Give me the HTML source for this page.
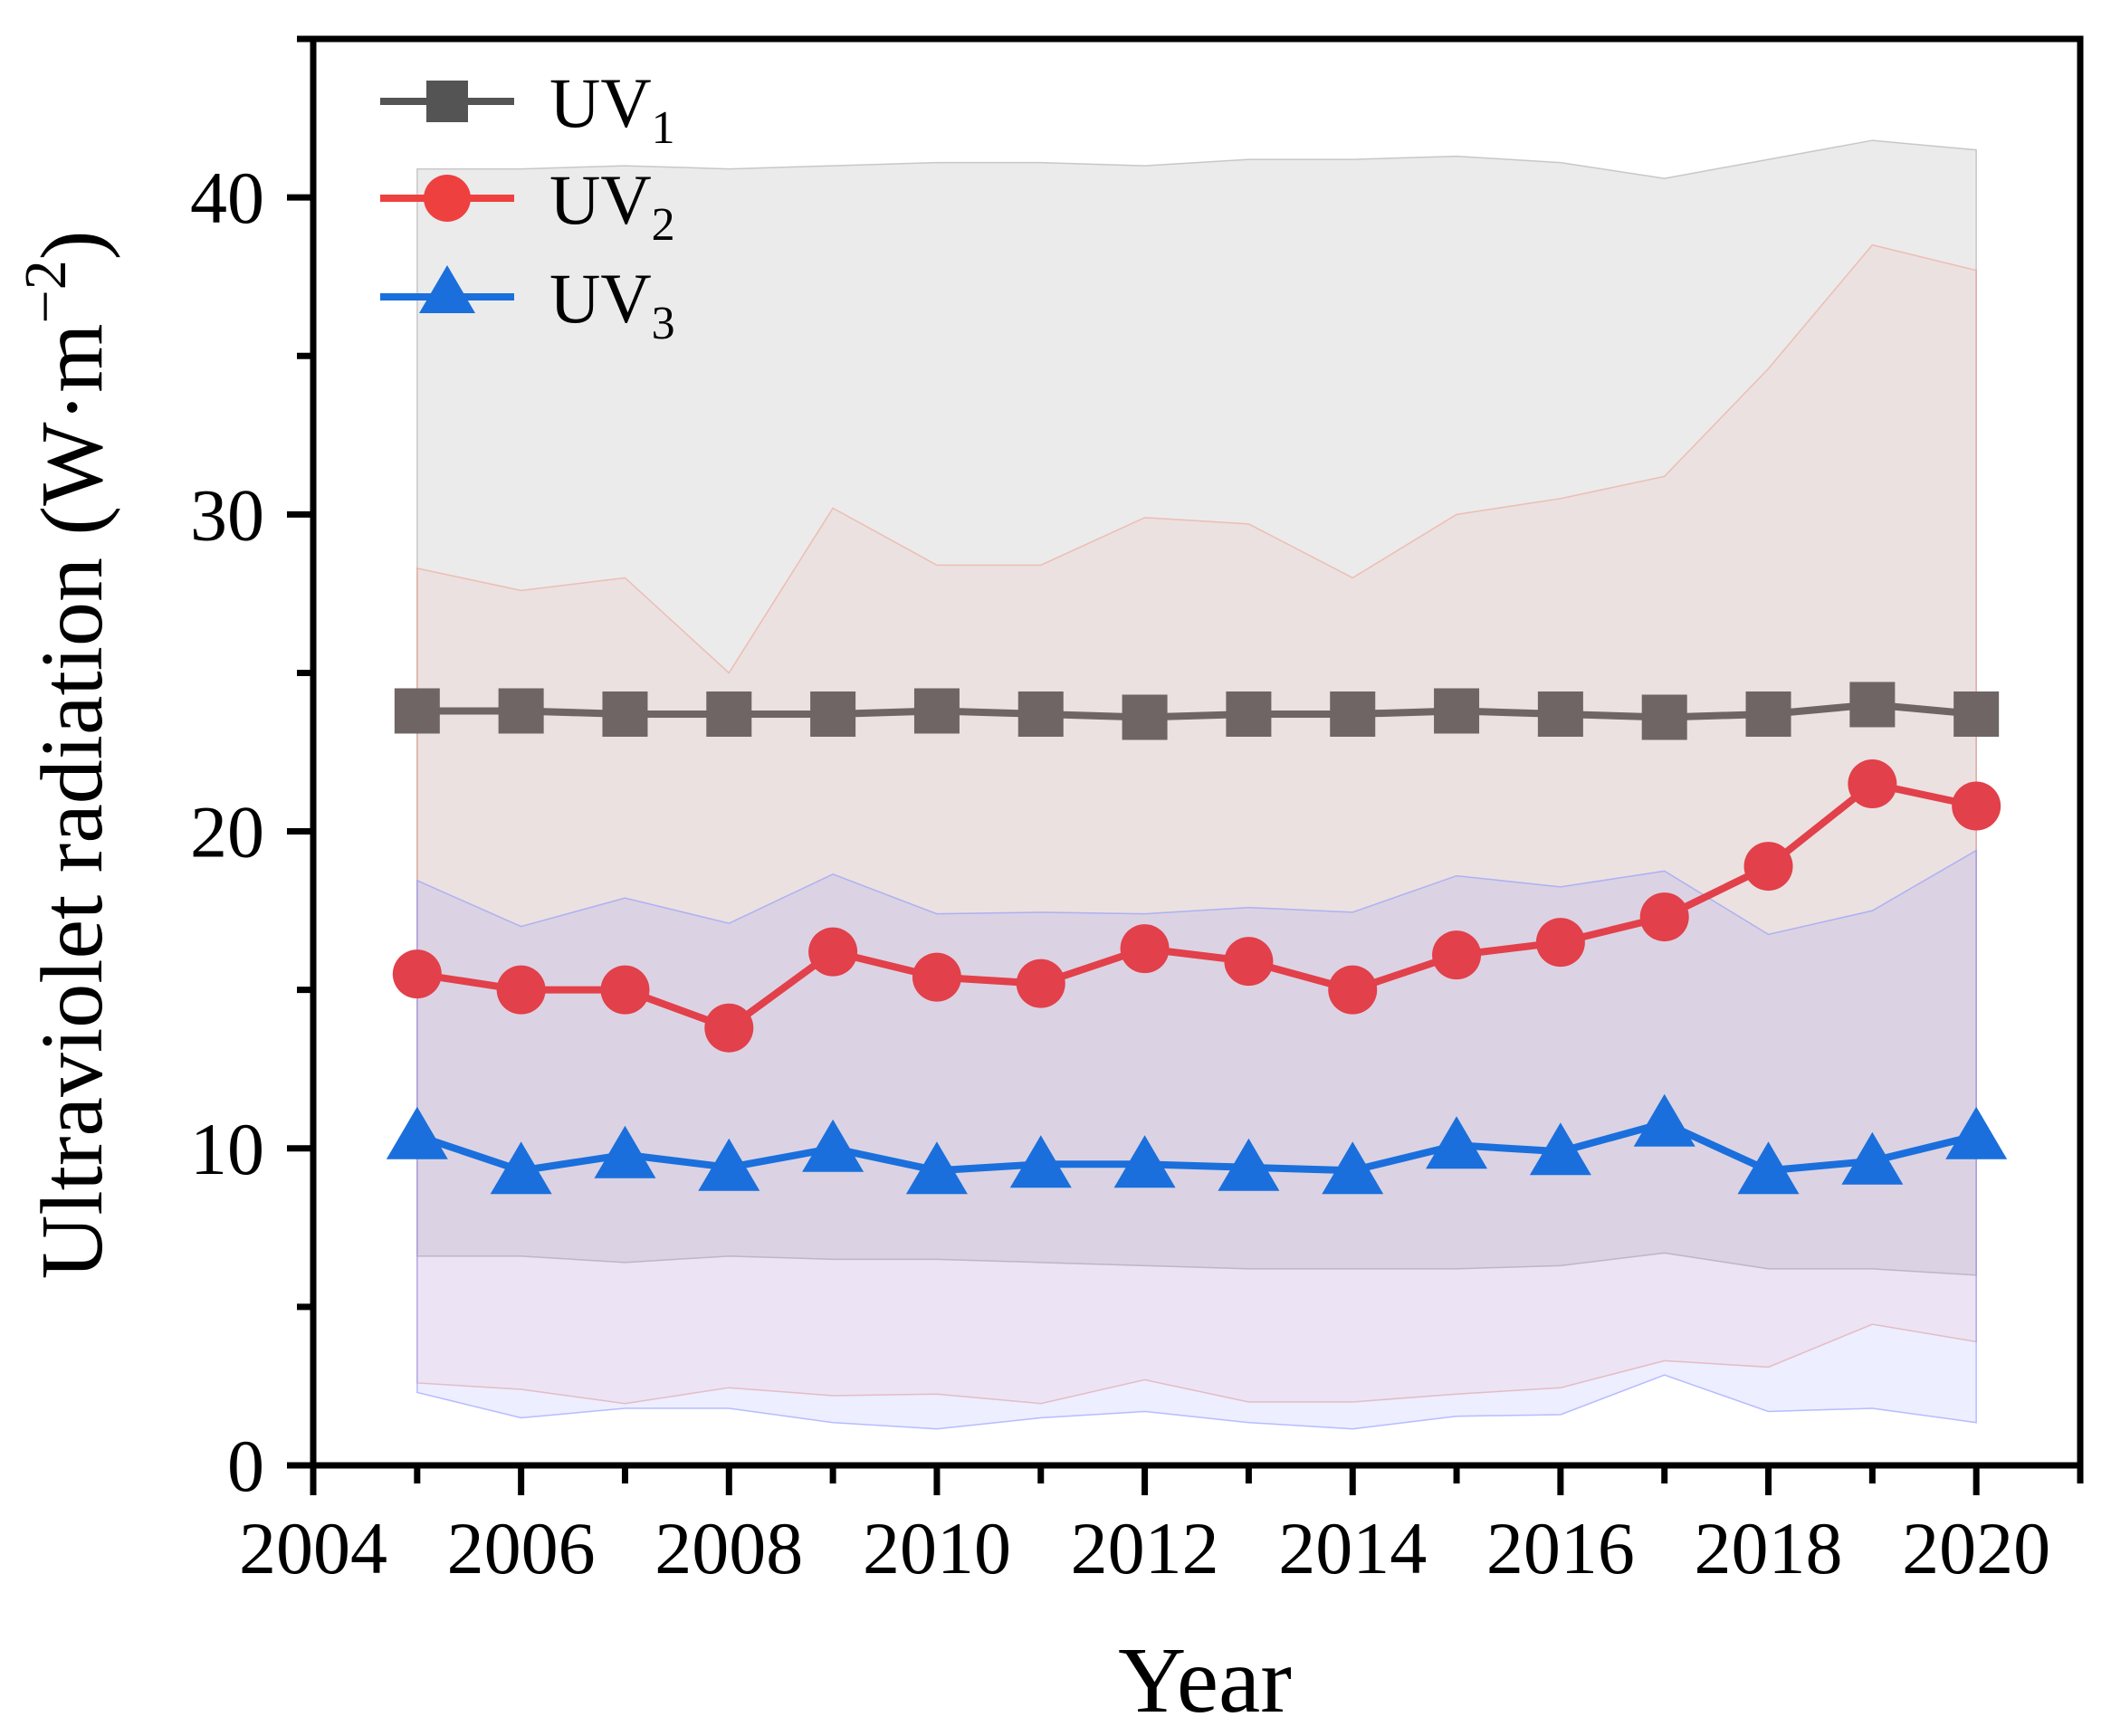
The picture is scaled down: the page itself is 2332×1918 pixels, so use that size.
<!DOCTYPE html>
<html><head><meta charset="utf-8"><style>
html,body{margin:0;padding:0;background:#fff}
svg{display:block;font-family:"Liberation Serif",serif}
</style></head><body>
<svg id="chart" width="2332" height="1918" viewBox="0 0 2332 1918" xmlns="http://www.w3.org/2000/svg">
<g id="bands"></g>
<g id="lines"></g>
<g id="axes"></g>
<g id="legend"></g>
<text x="1331" y="1891" font-size="104" text-anchor="middle">Year</text>
<text transform="translate(112,834) rotate(-90)" font-size="98" text-anchor="middle">Ultraviolet radiation (W·m<tspan dy="-40" font-size="66">−2</tspan><tspan dy="40">)</tspan></text>
</svg>
<script>
const years=[2005,2006,2007,2008,2009,2010,2011,2012,2013,2014,2015,2016,2017,2018,2019,2020];
const uv1=[23.8,23.8,23.7,23.7,23.7,23.8,23.7,23.6,23.7,23.7,23.8,23.7,23.6,23.7,24.0,23.7];
const uv2=[15.5,15.0,15.0,13.8,16.2,15.4,15.2,16.3,15.9,15.0,16.1,16.5,17.3,18.9,21.5,20.8];
const uv3=[10.4,9.3,9.8,9.4,10.0,9.3,9.5,9.5,9.4,9.3,10.1,9.9,10.8,9.3,9.6,10.4];
const uv1Hi=[40.9,40.9,41.0,40.9,41.0,41.1,41.1,41.0,41.2,41.2,41.3,41.1,40.6,41.2,41.8,41.5];
const uv1Lo=[6.6,6.6,6.4,6.6,6.5,6.5,6.4,6.3,6.2,6.2,6.2,6.3,6.7,6.2,6.2,6.0];
const uv2Hi=[28.3,27.6,28.0,25.0,30.2,28.4,28.4,29.9,29.7,28.0,30.0,30.5,31.2,34.6,38.5,37.7];
const uv2Lo=[2.6,2.4,1.95,2.45,2.2,2.25,1.95,2.7,2.0,2.0,2.25,2.45,3.3,3.1,4.45,3.9];
const uv3Hi=[18.45,17.0,17.9,17.1,18.65,17.4,17.45,17.4,17.6,17.45,18.6,18.25,18.75,16.75,17.5,19.4];
const uv3Lo=[2.3,1.5,1.8,1.8,1.35,1.15,1.5,1.7,1.35,1.15,1.55,1.6,2.85,1.7,1.8,1.35];
const xTicks=[2004,2006,2008,2010,2012,2014,2016,2018,2020];
const yTicks=[0,10,20,30,40];

const NS="http://www.w3.org/2000/svg";
const X0=346,X1=2298,Y0=1619,YT=43;
const xMin=2004,xMax=2021,yMin=0,yMax=45;
const sx=v=>X0+(v-xMin)/(xMax-xMin)*(X1-X0);
const sy=v=>Y0-(v-yMin)/(yMax-yMin)*(Y0-YT);
function mk(tag,attrs,parent){const e=document.createElementNS(NS,tag);for(const k in attrs)e.setAttribute(k,attrs[k]);parent.appendChild(e);return e;}

const bands=document.getElementById('bands');
function band(hi,lo,fill,stroke,name){
  let d='M'+years.map((y,i)=>sx(y)+','+sy(hi[i])).join('L');
  d+='L'+years.slice().reverse().map((y,j)=>{const i=years.length-1-j;return sx(y)+','+sy(lo[i]);}).join('L')+'Z';
  const p=mk('path',{d:d,fill:fill,stroke:stroke,'stroke-width':1.5},bands);
  
  
}
band(uv1Hi,uv1Lo,'rgba(205,205,205,0.40)','rgba(170,170,170,0.6)','uv1-band');
band(uv2Hi,uv2Lo,'rgba(240,120,100,0.08)','rgba(240,150,130,0.5)','uv2-band');
band(uv3Hi,uv3Lo,'rgba(90,100,255,0.11)','rgba(140,150,255,0.6)','uv3-band');

const lines=document.getElementById('lines');
function series(vals,color,shape,name){
  const g=mk('g',{},lines);
  
  
  const pl=mk('polyline',{points:years.map((y,i)=>sx(y)+','+sy(vals[i])).join(' '),fill:'none',stroke:color,'stroke-width':8,'stroke-linejoin':'round'},g);
  
  
  years.forEach((y,i)=>{
    const cx=sx(y),cy=sy(vals[i]);let m;
    if(shape==='square')m=mk('rect',{x:cx-25,y:cy-25,width:50,height:50,fill:color},g);
    else if(shape==='circle')m=mk('circle',{cx:cx,cy:cy,r:27,fill:color},g);
    else m=mk('polygon',{points:(cx)+','+(cy-32)+' '+(cx-34)+','+(cy+26)+' '+(cx+34)+','+(cy+26),fill:color},g);
    
    
  });
}
series(uv1,'#6e6564','square','uv1-series');
series(uv2,'#e2404a','circle','uv2-series');
series(uv3,'#1a6fdc','triangle','uv3-series');

const axes=document.getElementById('axes');
const frame=mk('rect',{x:X0,y:YT,width:X1-X0,height:Y0-YT,fill:'none',stroke:'#000','stroke-width':7},axes);


for(let yr=xMin;yr<=xMax;yr++){
  const major=xTicks.includes(yr);
  const t=mk('line',{x1:sx(yr),x2:sx(yr),y1:Y0,y2:Y0+(major?33:20),stroke:'#000','stroke-width':7},axes);
  
  
}
xTicks.forEach(v=>{
  const t=mk('text',{x:sx(v),y:1738,'font-size':82,'text-anchor':'middle'},axes);t.textContent=v;
  
  
});
for(let v=0;v<=45;v+=5){
  const major=yTicks.includes(v);
  const t=mk('line',{x1:X0-(major?29:18),x2:X0,y1:sy(v),y2:sy(v),stroke:'#000','stroke-width':7},axes);
  
  
}
yTicks.forEach(v=>{
  const t=mk('text',{x:292,y:sy(v)+28,'font-size':82,'text-anchor':'end'},axes);t.textContent=v;
  
  
});

const legend=document.getElementById('legend');
const items=[['1','#545454','square',112],['2','#ef4040','circle',219],['3','#1a6fdc','triangle',328]];
items.forEach(([n,c,s,y])=>{
  const g=mk('g',{},legend);
  
  
  mk('line',{x1:420,x2:568,y1:y,y2:y,stroke:c,'stroke-width':8},g);
  const cx=494;
  if(s==='square')mk('rect',{x:cx-23,y:y-23,width:46,height:46,fill:c},g);
  else if(s==='circle')mk('circle',{cx:cx,cy:y,r:26,fill:c},g);
  else mk('polygon',{points:cx+','+(y-35)+' '+(cx-31)+','+(y+18)+' '+(cx+31)+','+(y+18),fill:c},g);
  const t=mk('text',{x:607,y:y+28,'font-size':78},g);
  t.innerHTML='UV<tspan dy="18" font-size="52">'+n+'</tspan>';
});
</script>
</body></html>
